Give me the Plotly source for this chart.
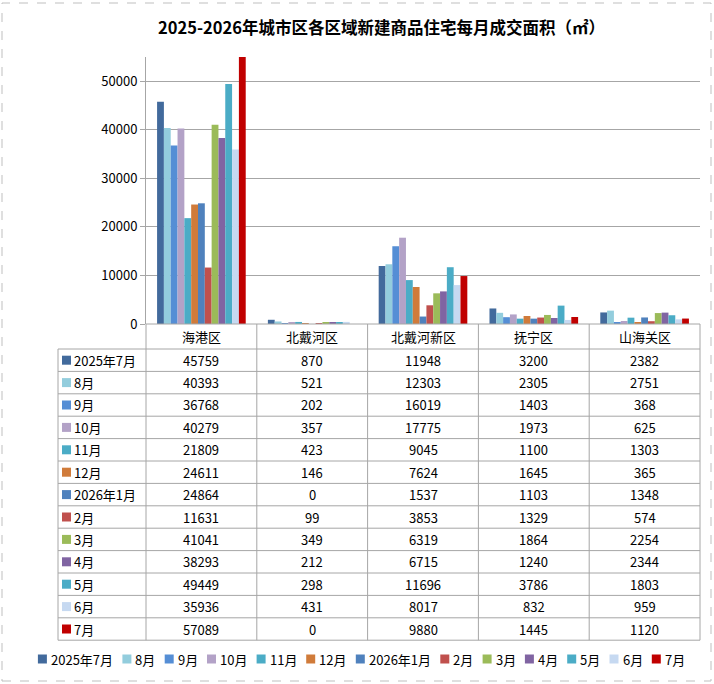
import plotly.graph_objects as go

districts = ["海港区", "北戴河区", "北戴河新区", "抚宁区", "山海关区"]
months = ["2025年7月", "8月", "9月", "10月", "11月", "12月", "2026年1月",
          "2月", "3月", "4月", "5月", "6月", "7月"]
values = [
    [45759, 870, 11948, 3200, 2382],
    [40393, 521, 12303, 2305, 2751],
    [36768, 202, 16019, 1403, 368],
    [40279, 357, 17775, 1973, 625],
    [21809, 423, 9045, 1100, 1303],
    [24611, 146, 7624, 1645, 365],
    [24864, 0, 1537, 1103, 1348],
    [11631, 99, 3853, 1329, 574],
    [41041, 349, 6319, 1864, 2254],
    [38293, 212, 6715, 1240, 2344],
    [49449, 298, 11696, 3786, 1803],
    [35936, 431, 8017, 832, 959],
    [57089, 0, 9880, 1445, 1120],
]
colors = ["#426A9C", "#93CDDD", "#558ED5", "#B3A2C7", "#4BACC6", "#D07B3A",
          "#4F81BD", "#C0504D", "#9BBB59", "#8064A2", "#4BACC6", "#C6D9F1", "#C00000"]

W, H = 714, 684
px = lambda x: x / W
py = lambda y: 1 - y / H

fig = go.Figure()
for m, v, c in zip(months, values, colors):
    fig.add_trace(go.Bar(x=districts, y=v, name=m, marker_color=c,
                         marker_line_width=0))

# table geometry (pixels)
tl, c0, cr = 58, 146, 700
cw = (cr - c0) / len(districts)
top, hdr, rh = 324, 349, 22.4
bottom = hdr + rh * len(months)
grid = "#A6A6A6"
shapes, ann = [], []

def line(x0, y0, x1, y1):
    shapes.append(dict(type="line", xref="paper", yref="paper", x0=px(x0), y0=py(y0),
                       x1=px(x1), y1=py(y1), line=dict(color=grid, width=1)))

def key(x, yc, c):
    shapes.append(dict(type="rect", xref="paper", yref="paper", x0=px(x), x1=px(x + 9),
                       y0=yc - 4.5 / H, y1=yc + 4.5 / H, fillcolor=c, line_width=0))

def label(x, y, s, xa="center", size=13):
    ann.append(dict(x=x, y=y, text=s, showarrow=False, xanchor=xa, yanchor="middle",
                    xref="paper", yref="paper", font=dict(size=size)))

line(c0, top, cr, top)
for i in range(len(months) + 1):
    line(tl, hdr + rh * i, cr, hdr + rh * i)
line(tl, hdr, tl, bottom)
for j in range(len(districts) + 1):
    line(c0 + cw * j, top, c0 + cw * j, bottom)

for j, d in enumerate(districts):
    label(px(c0 + cw * (j + 0.5)), py((top + hdr) / 2), d)
for i, (m, c) in enumerate(zip(months, colors)):
    yc = py(hdr + rh * (i + 0.5))
    key(62, yc, c)
    label(px(72), yc, m, "left")
    for j in range(len(districts)):
        label(px(c0 + cw * (j + 0.5)), yc, str(values[i][j]))

# legend row drawn manually
def text_w(s):
    return sum(7.3 if ch.isascii() else 13 for ch in s)

gap = 10
total = sum(9 + 3 + text_w(m) + gap for m in months) - gap
x = (W - total) / 2 + 4
for m, c in zip(months, colors):
    key(x, py(659), c)
    label(px(x + 11), py(659), m, "left")
    x += 9 + 3 + text_w(m) + gap

# dashed outer border
shapes.append(dict(type="rect", xref="paper", yref="paper", x0=px(2), x1=px(711),
                   y0=py(681), y1=py(3), line=dict(color="#BFBFBF", width=1, dash="dash")))

label(0.535, py(27), "<b>2025-2026年城市区各区域新建商品住宅每月成交面积（㎡）</b>", size=16.5)

fig.update_layout(
    width=W, height=H, margin=dict(l=0, r=0, t=0, b=0, autoexpand=False),
    paper_bgcolor="white", plot_bgcolor="white",
    font=dict(family="Noto Sans CJK SC, sans-serif", color="black", size=13),
    barmode="group", bargap=0.2, bargroupgap=0, showlegend=False,
    xaxis=dict(domain=[px(c0), px(cr)], showticklabels=False, showline=False,
               automargin=False),
    yaxis=dict(domain=[py(top), py(57)], range=[0, 55000], dtick=10000, tickformat="d",
               showgrid=True, gridcolor="#A6A6A6", showline=True, linecolor="#A6A6A6",
               ticks="outside", ticklen=5, tickcolor="#A6A6A6", zeroline=False,
               tickfont=dict(size=13), automargin=False),
    shapes=shapes, annotations=ann,
)
fig.write_html("out.html", config={"displayModeBar": False},
               post_script="document.body.style.margin='0';")
